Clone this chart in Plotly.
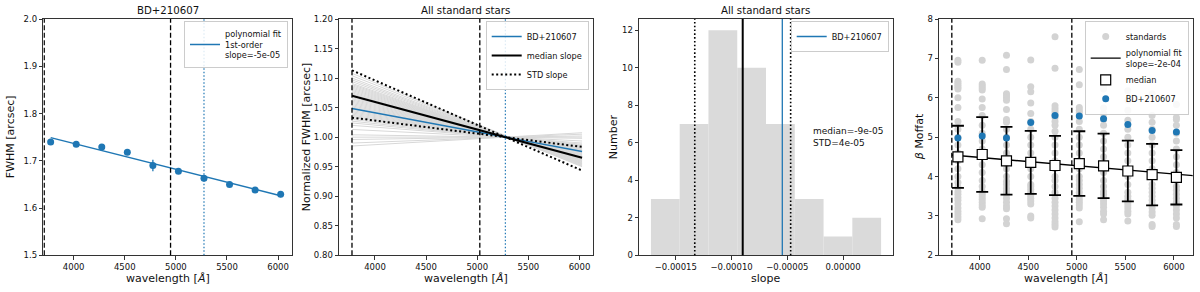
import numpy as np
import plotly.graph_objects as go

# ------------------------------------------------------------------ data
wl = [3775, 4025, 4275, 4525, 4775, 5025, 5275, 5525, 5775, 6025]

# panel 1 : BD+210607 FWHM
bd_fwhm = [1.740, 1.735, 1.729, 1.718, 1.690, 1.678, 1.663, 1.650, 1.638, 1.629]
bd_fwhm_err = [0.004, 0.003, 0.004, 0.003, 0.012, 0.003, 0.005, 0.003, 0.003, 0.006]
bd_fit_wl = [3775, 6025]
bd_fit_fwhm = [1.749, 1.626]
cut_wl_1 = [3712, 4948]
ref_wl = 5275

# panel 2 : normalized fits of all standard stars
norm_wl = [3775, 6025]
std_left = [1.108, 1.104, 1.100, 1.097, 1.094, 1.091, 1.089, 1.087, 1.085, 1.083,
            1.081, 1.079, 1.077, 1.075, 1.073, 1.071, 1.069, 1.067, 1.065, 1.063,
            1.061, 1.059, 1.057, 1.055, 1.053, 1.051, 1.049, 1.047, 1.045, 1.043,
            1.041, 1.039, 1.037, 1.035, 1.033, 1.030, 1.027, 1.024, 1.020, 1.013,
            1.004, 1.000, 0.996, 0.990, 0.985]
std_right = [0.950, 0.951, 0.952, 0.953, 0.954, 0.955, 0.9555, 0.9565, 0.9575, 0.9585,
             0.9595, 0.9605, 0.9615, 0.9625, 0.9635, 0.9645, 0.9655, 0.9665, 0.9675, 0.9685,
             0.9695, 0.9705, 0.9715, 0.9725, 0.9735, 0.9745, 0.9755, 0.9765, 0.9775, 0.9785,
             0.9795, 0.9805, 0.9815, 0.9825, 0.9835, 0.985, 0.9865, 0.988, 0.990, 0.9935,
             0.998, 1.000, 1.002, 1.005, 1.0075]
bd_norm = [1.0486, 0.9757]
median_norm = [1.070, 0.965]
std_hi_norm = [1.113, 0.9435]
std_lo_norm = [1.033, 0.9835]
cut_wl_2 = [3775, 5025]

# panel 3 : histogram of slopes
hist_edges = [-1.723e-4, -1.465e-4, -1.207e-4, -0.949e-4, -0.691e-4,
              -0.433e-4, -0.175e-4, 0.083e-4, 0.341e-4]
hist_counts = [3, 7, 12, 10, 7, 3, 1, 2]
median_slope = -9.0e-5
std_slope = 4.3e-5
bd_slope = -5.45e-5
slope_ticks = [-1.5e-4, -1.0e-4, -0.5e-4, 0.0]
slope_ticktext = ["\u22120.00015", "\u22120.00010", "\u22120.00005", "0.00000"]

# panel 4 : beta Moffat
beta_cols = [
    [6.95, 6.90, 6.42, 6.37, 6.32, 6.27, 6.22, 6.00, 5.75, 5.40, 5.20, 5.00, 4.80, 4.60, 4.40,
     4.20, 4.00, 3.85, 3.72, 3.62, 3.55, 3.47, 3.40, 3.30, 3.20, 3.12, 3.05, 2.97, 2.90],
    [6.95, 6.35, 6.30, 6.25, 6.20, 5.97, 5.75, 5.55, 5.30, 5.10, 4.90, 4.70, 4.50, 4.30, 4.10,
     3.90, 3.75, 3.62, 3.55, 3.48, 3.42, 3.35, 3.28, 3.22, 2.93],
    [7.08, 6.72, 6.10, 6.05, 6.00, 5.94, 5.70, 5.45, 5.38, 5.20, 5.00, 4.80, 4.60, 4.40, 4.20,
     4.00, 3.88, 3.80, 3.70, 3.62, 3.55, 3.45, 3.35, 3.25, 3.18, 2.93, 2.80],
    [6.96, 6.28, 6.15, 5.87, 5.60, 5.40, 5.20, 5.00, 4.80, 4.60, 4.40, 4.20, 4.00, 3.80, 3.75,
     3.68, 3.60, 3.52, 3.45, 3.38, 3.30, 3.00, 2.95],
    [7.55, 6.75, 5.80, 5.72, 5.65, 5.58, 5.50, 5.40, 5.30, 5.15, 5.00, 4.80, 4.60, 4.40, 4.20,
     4.00, 3.90, 3.75, 3.60, 3.45, 3.35, 3.25, 3.15, 3.05, 2.95, 2.85, 2.78, 2.72],
    [6.72, 6.33, 5.75, 5.68, 5.62, 5.40, 5.20, 5.00, 4.80, 4.60, 4.40, 4.20, 4.00, 3.90, 3.80,
     3.70, 3.60, 3.50, 3.42, 3.35, 3.28, 3.20, 2.85],
    [6.28, 6.22, 5.74, 5.60, 5.45, 5.30, 5.10, 4.90, 4.70, 4.50, 4.30, 4.10, 3.90, 3.75, 3.62,
     3.55, 3.45, 3.38, 3.30, 3.22, 3.12, 3.05, 2.90],
    [6.18, 5.94, 5.68, 5.43, 5.20, 5.00, 4.80, 4.60, 4.40, 4.20, 4.00, 3.80, 3.60, 3.50, 3.42,
     3.35, 3.28, 3.20, 3.12, 3.05, 2.87],
    [6.10, 6.05, 5.55, 5.38, 5.20, 5.00, 4.80, 4.60, 4.40, 4.20, 4.00, 3.80, 3.70, 3.60, 3.50,
     3.40, 3.30, 3.20, 3.10, 3.02, 2.78, 2.73],
    [5.83, 5.50, 5.45, 5.30, 5.10, 4.90, 4.70, 4.50, 4.30, 4.10, 3.90, 3.75, 3.65, 3.55, 3.45,
     3.35, 3.25, 3.15, 3.05, 2.95, 2.78, 2.73],
]
beta_median = [4.50, 4.56, 4.40, 4.36, 4.28, 4.33, 4.27, 4.14, 4.05, 3.98]
beta_err = [0.79, 0.95, 0.86, 0.80, 0.75, 0.82, 0.82, 0.77, 0.78, 0.69]
bd_beta = [4.98, 5.03, 4.98, 5.37, 5.55, 5.54, 5.47, 5.32, 5.17, 5.13]
beta_fit_wl = [3712, 6300]
beta_fit = [4.545, 4.002]
cut_wl_4 = [3712, 4948]

# ------------------------------------------------------------------ style / layout helpers
W, H = 1200, 292
C0 = "#1f77b4"
GRAY = "#d3d3d3"
FONT = "DejaVu Sans"


def fx(p):
    return p / W


def fy(p):
    return 1 - p / H


panels = [(43.3, 292.0), (339.0, 592.7), (639.0, 892.7), (939.0, 1192.7)]
top_px, bot_px = 19.0, 255.3

fig = go.Figure()

# ---------------- panel 1
fig.add_trace(go.Scatter(
    x=bd_fit_wl, y=bd_fit_fwhm, mode="lines", line=dict(color=C0, width=1.5),
    name="polynomial fit<br>1st-order<br>slope=-5e-05", xaxis="x", yaxis="y", legend="legend"))
fig.add_trace(go.Scatter(
    x=wl, y=bd_fwhm, mode="markers", marker=dict(color=C0, size=7),
    error_y=dict(type="data", array=bd_fwhm_err, color=C0, thickness=1.3, width=0),
    xaxis="x", yaxis="y", showlegend=False))

# ---------------- panel 2
gx, gy = [], []
for a, b in zip(std_left, std_right):
    gx += [norm_wl[0], norm_wl[1], None]
    gy += [a, b, None]
fig.add_trace(go.Scatter(x=gx, y=gy, mode="lines", line=dict(color="#d8d8d8", width=1),
                         xaxis="x2", yaxis="y2", showlegend=False, connectgaps=False))
fig.add_trace(go.Scatter(x=norm_wl, y=bd_norm, mode="lines", line=dict(color=C0, width=1.4),
                         name="BD+210607", xaxis="x2", yaxis="y2", legend="legend2"))
fig.add_trace(go.Scatter(x=norm_wl, y=median_norm, mode="lines", line=dict(color="black", width=2),
                         name="median slope", xaxis="x2", yaxis="y2", legend="legend2"))
fig.add_trace(go.Scatter(x=norm_wl, y=std_hi_norm, mode="lines",
                         line=dict(color="black", width=2, dash="2px,2.5px"),
                         name="STD slope", legendgroup="std", xaxis="x2", yaxis="y2", legend="legend2"))
fig.add_trace(go.Scatter(x=norm_wl, y=std_lo_norm, mode="lines",
                         line=dict(color="black", width=2, dash="2px,2.5px"),
                         name="STD slope", legendgroup="std", showlegend=False,
                         xaxis="x2", yaxis="y2", legend="legend2"))

# ---------------- panel 3
edges = np.array(hist_edges)
centers = (edges[:-1] + edges[1:]) / 2
widths = np.diff(edges)
fig.add_trace(go.Bar(x=centers, y=hist_counts, width=widths,
                     marker=dict(color="#dadada", line=dict(width=0)),
                     xaxis="x3", yaxis="y3", showlegend=False))
y3_top = 12.6
fig.add_trace(go.Scatter(x=[bd_slope, bd_slope], y=[0, y3_top], mode="lines",
                         line=dict(color=C0, width=1.3), name="BD+210607",
                         xaxis="x3", yaxis="y3", legend="legend3"))

# ---------------- panel 4
sx, sy = [], []
for w, col in zip(wl, beta_cols):
    sx += [w] * len(col)
    sy += col
fig.add_trace(go.Scatter(x=sx, y=sy, mode="markers", marker=dict(color=GRAY, size=7),
                         name="standards", xaxis="x4", yaxis="y4", legend="legend4"))
fig.add_trace(go.Scatter(x=beta_fit_wl, y=beta_fit, mode="lines", line=dict(color="black", width=1.4),
                         name="polynomial fit<br>slope=-2e-04", xaxis="x4", yaxis="y4", legend="legend4"))
fig.add_trace(go.Scatter(x=wl, y=beta_median, mode="markers",
                         marker=dict(symbol="square", size=10, color="white",
                                     line=dict(color="black", width=1.2)),
                         error_y=dict(type="data", array=beta_err, color="black", thickness=1.8, width=6),
                         name="median", xaxis="x4", yaxis="y4", legend="legend4"))
fig.add_trace(go.Scatter(x=wl, y=bd_beta, mode="markers", marker=dict(color=C0, size=7),
                         name="BD+210607", xaxis="x4", yaxis="y4", legend="legend4"))

# ---------------- vertical reference lines (shapes)
dash_line = dict(color="black", width=1.3, dash="5px,2.5px")
dot_blue = dict(color=C0, width=1.2, dash="1.5px,2px")
for xa, cuts in (("x", cut_wl_1), ("x2", cut_wl_2), ("x4", cut_wl_4)):
    ya = "y" + xa[1:]
    for c in cuts:
        fig.add_shape(type="line", xref=xa, yref=f"{ya} domain", x0=c, x1=c, y0=0, y1=1, line=dash_line)
for xa in ("x", "x2"):
    ya = "y" + xa[1:]
    fig.add_shape(type="line", xref=xa, yref=f"{ya} domain", x0=ref_wl, x1=ref_wl, y0=0, y1=1, line=dot_blue)
for v in (median_slope - std_slope, median_slope + std_slope):
    fig.add_shape(type="line", xref="x3", yref="y3 domain", x0=v, x1=v, y0=0, y1=1,
                  line=dict(color="black", width=1.6, dash="1.6px,2.2px"))
fig.add_shape(type="line", xref="x3", yref="y3 domain", x0=median_slope, x1=median_slope, y0=0, y1=1,
              line=dict(color="black", width=2))

# ---------------- axes
ax_common = dict(showline=True, mirror=True, linecolor="#333", linewidth=1,
                 ticks="outside", ticklen=3.5, tickwidth=0.8, tickcolor="#333",
                 showgrid=False, zeroline=False,
                 tickfont=dict(family=FONT, size=8.5, color="#111"))
ydom = [fy(bot_px), fy(top_px)]
layout = dict(width=W, height=H, margin=dict(l=0, r=0, t=0, b=0),
              paper_bgcolor="white", plot_bgcolor="white",
              font=dict(family=FONT, color="#111"), template="none", showlegend=True)

xranges = [[3703, 6136], [3648, 6129], [-1.83e-4, 4.45e-5], [3580, 6193]]
yranges = [[1.5, 2.0], [0.8, 1.2], [0, y3_top], [2, 8]]
for i, ((l, r), xr, yr) in enumerate(zip(panels, xranges, yranges)):
    sfx = "" if i == 0 else str(i + 1)
    xa = dict(ax_common, domain=[fx(l), fx(r)], range=xr, anchor="y" + sfx)
    ya = dict(ax_common, domain=ydom, range=yr, anchor="x" + sfx)
    if i in (0, 1, 3):
        xa.update(tickvals=[4000, 4500, 5000, 5500, 6000], tickformat="d")
    else:
        xa.update(tickvals=slope_ticks, ticktext=slope_ticktext)
    if i == 0:
        ya.update(dtick=0.1, tick0=1.5, tickformat=".1f")
    elif i == 1:
        ya.update(dtick=0.05, tick0=0.8, tickformat=".2f")
    elif i == 2:
        ya.update(dtick=2, tick0=0)
    else:
        ya.update(dtick=1, tick0=2)
    layout["xaxis" + sfx] = xa
    layout["yaxis" + sfx] = ya

leg_common = dict(xanchor="right", yanchor="top", bgcolor="rgba(255,255,255,0.85)",
                  bordercolor="#cccccc", borderwidth=1, font=dict(family=FONT, size=8.2, color="#111"),
                  tracegroupgap=0, itemwidth=30)
for i, key in enumerate(["legend", "legend2", "legend3", "legend4"]):
    layout[key] = dict(leg_common, x=fx(panels[i][1] - 4), y=fy(top_px + 2))

fig.update_layout(**layout)

# ---------------- titles and axis labels (annotations)
ann = []
titles = [("BD+210607", 0), ("All standard stars", 1), ("All standard stars", 2)]
for t, i in titles:
    l, r = panels[i]
    ann.append(dict(text=t, x=fx((l + r) / 2), y=fy(10.7), xref="paper", yref="paper",
                    showarrow=False, xanchor="center", yanchor="middle", font=dict(size=10.2)))
xlabels = ["wavelength [<i>Å</i>]", "wavelength [<i>Å</i>]", "slope", "wavelength [<i>Å</i>]"]
for (l, r), t in zip(panels, xlabels):
    ann.append(dict(text=t, x=fx((l + r) / 2), y=fy(278), xref="paper", yref="paper",
                    showarrow=False, xanchor="center", yanchor="middle", font=dict(size=11)))
ylabels = [("FWHM [arcsec]", 10), ("Normalized FWHM [arcsec]", 306), ("Number", 613),
           ("<i>β</i> Moffat", 919)]
for t, xp in ylabels:
    ann.append(dict(text=t, x=fx(xp), y=fy((top_px + bot_px) / 2), xref="paper", yref="paper",
                    showarrow=False, xanchor="center", yanchor="middle", textangle=-90,
                    font=dict(size=11)))
ann.append(dict(text=f"median={median_slope:.0e}<br>STD={std_slope:.0e}",
                x=-2.85e-5, y=6.3, xref="x3", yref="y3", showarrow=False,
                xanchor="left", yanchor="middle", align="left", font=dict(size=9)))
fig.update_layout(annotations=ann)

fig.write_html("out.html", config={"displayModeBar": False},
               post_script="document.body.style.margin='0px';document.body.style.overflow='hidden';")
